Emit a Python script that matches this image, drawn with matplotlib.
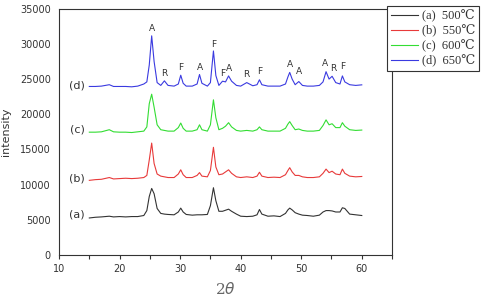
import matplotlib
matplotlib.use('Agg')
import matplotlib.pyplot as plt
from matplotlib.ticker import MultipleLocator

# 2theta sampling points
theta = [15, 16, 17, 18.3, 19, 20, 21, 22, 23, 24,
         24.5, 24.9, 25.3, 25.7, 26.2, 26.8, 27.4, 28, 29, 29.7,
         30.1, 30.5, 31, 32, 32.8, 33.2, 33.6, 34.5, 35.0, 35.5,
         35.9, 36.4, 37.0, 37.5, 38.0, 38.5, 39.3, 40, 41, 42,
         42.7, 43.1, 43.5, 44.5, 45.5, 46.5, 47.4, 47.8, 48.1, 48.5,
         49.0, 49.6, 50.2, 51, 52, 53, 53.6, 54.1, 54.6, 55.1,
         55.7, 56.4, 56.8, 57.2, 58, 59, 60]

int_a = [5250, 5350, 5400, 5500, 5400, 5450, 5400, 5450, 5450, 5600,
         6300, 8300, 9450, 8700, 6600, 5900, 5800, 5750, 5700, 6100,
         6650, 6100, 5750, 5650, 5700, 5700, 5700, 5750, 7000, 9550,
         7700, 6200, 6200, 6350, 6500, 6200, 5800, 5500, 5450, 5500,
         5700, 6450, 5800, 5500, 5550, 5450, 5900, 6400, 6650, 6400,
         6000, 5800, 5650, 5600, 5500, 5650, 6100, 6300, 6300, 6250,
         6100, 6100, 6700, 6600, 5800, 5700, 5600]

int_b = [10600, 10700, 10750, 11000, 10800, 10850, 10900, 10850, 10900, 11000,
         11300, 13500, 15900, 13000, 11500, 11200, 11100, 11000, 11000, 11500,
         12100, 11400, 11000, 11000, 11300, 11700, 11200, 11100, 12000, 15300,
         12500, 11400, 11500, 11800, 12100, 11600, 11100, 11000, 11100, 11000,
         11200, 11750, 11200, 11000, 11050, 11000, 11400, 12000, 12400, 11800,
         11300, 11300, 11100, 11000, 11000, 11100, 11600, 12200, 11700, 11900,
         11500, 11400, 12200, 11600, 11200, 11100, 11150]

int_c = [17450, 17450, 17500, 17800, 17500, 17450, 17450, 17400, 17500, 17600,
         18200, 21500, 22850, 21000, 18500, 17800, 17700, 17600, 17600, 18100,
         18750, 18000, 17600, 17600, 17800, 18500, 17800, 17600, 18500, 22050,
         19500, 17800, 18000, 18300, 18800, 18200, 17700, 17600, 17700, 17600,
         17800, 18200, 17800, 17600, 17600, 17600, 18000, 18600, 18950, 18400,
         17800, 17900, 17700, 17600, 17600, 17700, 18400, 19200, 18500, 18650,
         18100, 18100, 18800, 18300, 17800, 17700, 17750]

int_d = [23950, 23950, 24000, 24200, 23950, 23950, 23950, 23900, 24000, 24300,
         24600, 27000, 31150, 27500, 24500, 24100, 24750, 24100, 24000, 24300,
         25550, 24400, 24000, 24000, 24300, 25650, 24400, 24000, 24500, 29000,
         25500, 24100, 24700, 24600, 25450, 24700, 24100, 24000, 24500, 24050,
         24200, 24900, 24200, 24000, 24000, 24000, 24300, 25300, 25950, 25000,
         24200, 24650, 24100, 24000, 24000, 24100, 24600, 26050, 25000, 25400,
         24500, 24300, 25450, 24600, 24200, 24100, 24180]

legend_labels = ['(a)  500℃', '(b)  550℃', '(c)  600℃', '(d)  650℃']
curve_tags = ['(a)', '(b)', '(c)', '(d)']
tag_y = [5700, 10900, 17900, 24150]
colors = ['#333333', '#e83a3a', '#33dd33', '#3a3ae0']

# phase markers above curve (d)
peak_pos = [25.3, 27.4, 30.1, 33.2, 35.5, 37.0, 38.0, 41.0, 43.1, 48.1, 49.6, 54.0, 55.3, 56.9]
peak_lbl = ['A', 'R', 'F', 'A', 'F', 'F', 'A', 'R', 'F', 'A', 'A', 'A', 'R', 'F']
peak_y = [32200, 25750, 26650, 26600, 29950, 25750, 26450, 25650, 26100, 27100, 26100, 27150, 26450, 26750]

fig = plt.figure(figsize=(4.84, 3.02), dpi=100)
ax = fig.add_axes([0.122, 0.156, 0.688, 0.815])

for ys, c, lab in zip([int_a, int_b, int_c, int_d], colors, legend_labels):
    ax.plot(theta, ys, color=c, lw=0.8, label=lab)

for t, y in zip(curve_tags, tag_y):
    ax.text(13.0, y, t, fontsize=8, ha='center', va='center', color='#333333')

for x, t, y in zip(peak_pos, peak_lbl, peak_y):
    ax.text(x, y, t, fontsize=6.5, ha='center', va='center', color='#333333')

ax.set_xlim(10, 65)
ax.set_ylim(0, 35000)
ax.set_xticks([10, 20, 30, 40, 50, 60])
ax.xaxis.set_minor_locator(MultipleLocator(5))
ax.set_yticks(range(0, 35001, 5000))
ax.tick_params(axis='x', which='both', direction='out', length=3, width=0.8,
               labelsize=7, colors='#333333')
ax.tick_params(axis='y', length=0, labelsize=7, colors='#333333', pad=6)
for s in ax.spines.values():
    s.set_linewidth(0.8)
    s.set_color('#333333')

ax.set_ylabel('intensity', fontsize=8, color='#333333')
ax.yaxis.set_label_coords(-0.145, 0.5)
ax.set_xlabel('2$\\theta$', fontsize=11, color='#666666', family='DejaVu Serif',
              labelpad=5)

leg = fig.legend(loc='upper right', bbox_to_anchor=(0.99, 0.98), borderaxespad=0,
                 fancybox=False, framealpha=1, edgecolor='#333333', handlelength=2.2,
                 handletextpad=0.3, borderpad=0.3, labelspacing=0.2,
                 prop={'family': ['Liberation Serif', 'DejaVu Serif'], 'size': 9})
leg.get_frame().set_linewidth(0.8)
for t in leg.get_texts():
    t.set_color('#333333')

fig.savefig('out.png', dpi=100)
